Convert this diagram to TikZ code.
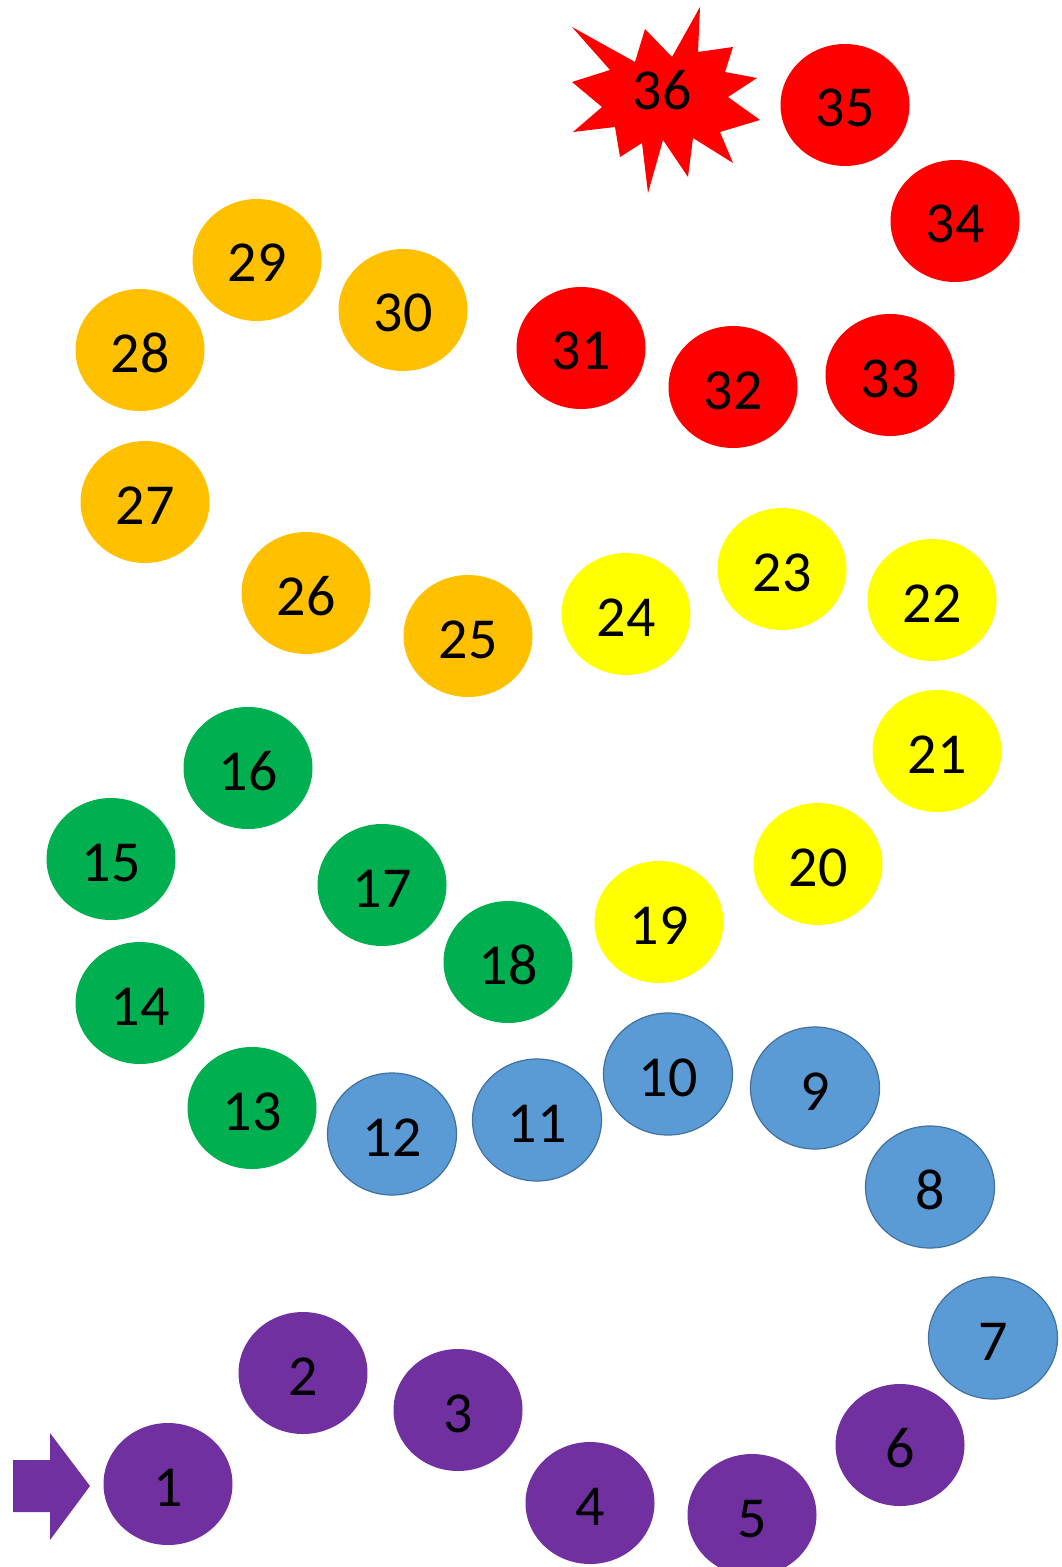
\documentclass[tikz,border=0pt]{standalone}
\usepackage{fontspec}
\setmainfont{Carlito}
\usetikzlibrary{shapes.geometric}

\definecolor{grapec}{HTML}{7030A0}
\definecolor{seac}{HTML}{5B9BD5}
\definecolor{seaedge}{HTML}{41719C}
\definecolor{leafc}{HTML}{00B050}
\definecolor{lemonc}{HTML}{FFFF00}
\definecolor{amberc}{HTML}{FFC000}
\definecolor{firec}{HTML}{FF0000}

\begin{document}
\begin{tikzpicture}[
  x=0.5pt, y=-0.5pt,
  spot/.style={ellipse, minimum width=64.5pt, minimum height=61pt, inner sep=0pt, text height=22pt, text depth=0pt, font=\fontsize{29}{32}\selectfont},
  grape/.style={spot, fill=grapec},
  sea/.style={spot, fill=seac, draw=seaedge, line width=0.6pt},
  leaf/.style={spot, fill=leafc},
  lemon/.style={spot, fill=lemonc},
  amber/.style={spot, fill=amberc},
  fire/.style={spot, fill=firec}
]
\useasboundingbox (0,0) rectangle (1061,1567);

% start arrow
\fill[grapec] (13,1460) -- (50,1460) -- (50,1433) -- (90,1486) -- (50,1540) -- (50,1512) -- (13,1512) -- cycle;

\node[grape] (s1) at (168,1484) {1};
\node[grape] (s2) at (303,1373) {2};
\node[grape] (s3) at (458,1410) {3};
\node[grape] (s4) at (590,1503) {4};
\node[grape] (s5) at (752,1515) {5};
\node[grape] (s6) at (900,1445) {6};
\node[sea] (s7) at (993,1338) {7};
\node[sea] (s8) at (930,1187) {8};
\node[sea] (s9) at (815,1088) {9};
\node[sea] (s10) at (668,1074) {10};
\node[sea] (s11) at (537,1120) {11};
\node[sea] (s12) at (392,1134) {12};
\node[leaf] (s13) at (252,1108) {13};
\node[leaf] (s14) at (140,1003) {14};
\node[leaf] (s15) at (111,859) {15};
\node[leaf] (s16) at (248,768) {16};
\node[leaf] (s17) at (382,885) {17};
\node[leaf] (s18) at (508,962) {18};
\node[lemon] (s19) at (659,922) {19};
\node[lemon] (s20) at (818,864) {20};
\node[lemon] (s21) at (937,751) {21};
\node[lemon] (s22) at (932,600) {22};
\node[lemon] (s23) at (782,569) {23};
\node[lemon] (s24) at (626,614) {24};
\node[amber] (s25) at (468,636) {25};
\node[amber] (s26) at (306,593) {26};
\node[amber] (s27) at (145,502) {27};
\node[amber] (s28) at (140,350) {28};
\node[amber] (s29) at (257,260) {29};
\node[amber] (s30) at (403,310) {30};
\node[fire] (s31) at (581,348) {31};
\node[fire] (s32) at (733,387) {32};
\node[fire] (s33) at (890,375) {33};
\node[fire] (s34) at (955,221) {34};
\node[fire] (s35) at (845,105) {35};

% finish star
\fill[firec] (572,27) -- (635,62) -- (645,29) -- (672,57) -- (700,7) -- (698,52)
  -- (733,47) -- (725,72) -- (757,78) -- (728,97) -- (760,120) -- (720,132)
  -- (733,163) -- (693,138) -- (688,177) -- (663,140) -- (648,193) -- (642,143)
  -- (620,157) -- (615,127) -- (573,132) -- (602,107) -- (572,82) -- (610,70) -- cycle;
\node[font=\fontsize{29}{32}\selectfont, inner sep=0pt] (s36) at (662,90) {36};
\end{tikzpicture}
\end{document}
